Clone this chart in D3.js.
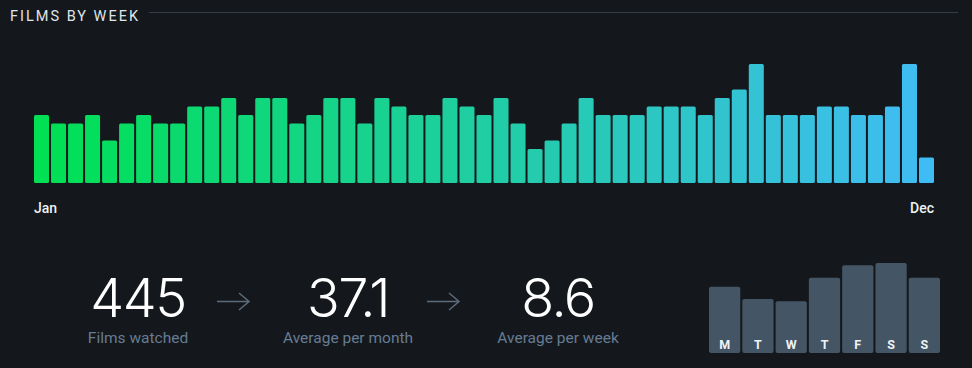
<!DOCTYPE html>
<html>
<head>
<meta charset="utf-8">
<script src="https://cdn.jsdelivr.net/npm/d3@7"></script>
<style>
  html, body { margin: 0; padding: 0; background: #14181c; }
  svg { display: block; }
</style>
</head>
<body>
<svg id="stats"></svg>
<script>
const w = 972;
const h = 368;

// films per week
const weekCounts = [8, 7, 7, 8, 5, 7, 8, 7, 7, 9, 9, 10, 8, 10, 10, 7, 8,
                    10, 10, 7, 10, 9, 8, 8, 10, 9, 8, 10, 7, 4, 5, 7, 10, 8, 8, 8,
                    9, 9, 9, 8, 10, 11, 14, 8, 8, 8, 9, 9, 8, 8, 9, 14, 3];
const monthTicks = ['Jan', 'Dec'];

const statValues = ['445', '37.1', '8.6'];
const statLabels = ['Films watched', 'Average per month', 'Average per week'];

const dayLabels = ['M', 'T', 'W', 'T', 'F', 'S', 'S'];
const dayCounts = [59, 48, 46, 67, 78, 80, 67];

let svg = d3.select('#stats').attr('width', w).attr('height', h);
const font = 'Roboto, "Noto Sans", sans-serif';
const numFont = 'Inter, Roboto, sans-serif';

// header
svg.append('text')
  .attr('x', 10).attr('y', 21)
  .attr('fill', '#dfe5ea')
  .attr('font-family', font)
  .attr('font-size', 14.5)
  .attr('letter-spacing', 2)
  .text('FILMS BY WEEK');

svg.append('line')
  .attr('x1', 149).attr('x2', 958)
  .attr('y1', 12.5).attr('y2', 12.5)
  .attr('stroke', '#363c44')
  .attr('stroke-width', 1);

// weekly bars
let xWeek = d3.scaleBand()
  .domain(d3.range(weekCounts.length))
  .range([34, 934])
  .paddingInner(2 / 17)
  .paddingOuter(0);

let yWeek = d3.scaleLinear().domain([0, 14]).range([183, 64]);

let color = d3.scaleLinear()
  .domain([0, weekCounts.length - 1])
  .range(['#00e054', '#40bcf4'])
  .interpolate(d3.interpolateRgb);

svg.append('g').selectAll('rect')
  .data(weekCounts)
  .join('rect')
  .attr('x', (d, i) => xWeek(i))
  .attr('y', d => yWeek(d))
  .attr('width', xWeek.bandwidth())
  .attr('height', d => yWeek(0) - yWeek(d))
  .attr('rx', 1.5)
  .attr('fill', (d, i) => color(i));

svg.append('g').selectAll('text')
  .data(monthTicks)
  .join('text')
  .attr('x', (d, i) => i === 0 ? xWeek(0) : xWeek(weekCounts.length - 1) + xWeek.bandwidth())
  .attr('y', 213)
  .attr('text-anchor', (d, i) => i === 0 ? 'start' : 'end')
  .attr('fill', '#eef2f5')
  .attr('font-family', font)
  .attr('font-size', 14)
  .attr('font-weight', 500)
  .text(d => d);

// summary numbers
const statX = [138, 348, 558];

let stats = svg.append('g').selectAll('g')
  .data(statValues)
  .join('g')
  .attr('transform', (d, i) => `translate(${statX[i]},0)`);

stats.append('text')
  .attr('y', 317)
  .attr('text-anchor', 'middle')
  .attr('fill', '#ffffff')
  .attr('font-family', numFont)
  .attr('font-size', 54)
  .attr('font-weight', 300)
  .attr('letter-spacing', -1.5)
  .text(d => d);

stats.append('text')
  .attr('y', 343)
  .attr('text-anchor', 'middle')
  .attr('fill', '#667c94')
  .attr('font-family', font)
  .attr('font-size', 15.5)
  .text((d, i) => statLabels[i]);

// arrows between the numbers
const arrowX = [217, 427];
svg.append('g').selectAll('path')
  .data(arrowX)
  .join('path')
  .attr('d', x => `M${x},301.5H${x + 32}M${x + 22},293L${x + 32},301.5L${x + 22},310`)
  .attr('fill', 'none')
  .attr('stroke', '#5b6b7b')
  .attr('stroke-width', 1.5);

// day-of-week bars
let xDay = d3.scaleBand()
  .domain(d3.range(dayCounts.length))
  .range([709, 940])
  .paddingInner(2 / 33)
  .paddingOuter(0);

let yDay = d3.scaleLinear().domain([0, 80]).range([353, 263]);

svg.append('g').selectAll('rect')
  .data(dayCounts)
  .join('rect')
  .attr('x', (d, i) => xDay(i))
  .attr('y', d => yDay(d))
  .attr('width', xDay.bandwidth())
  .attr('height', d => yDay(0) - yDay(d))
  .attr('rx', 2)
  .attr('fill', '#445566');

svg.append('g').selectAll('text')
  .data(dayLabels)
  .join('text')
  .attr('x', (d, i) => xDay(i) + xDay.bandwidth() / 2)
  .attr('y', 348.5)
  .attr('text-anchor', 'middle')
  .attr('fill', '#eef2f5')
  .attr('font-family', font)
  .attr('font-size', 12.5)
  .attr('font-weight', 700)
  .text(d => d);
</script>
</body>
</html>
